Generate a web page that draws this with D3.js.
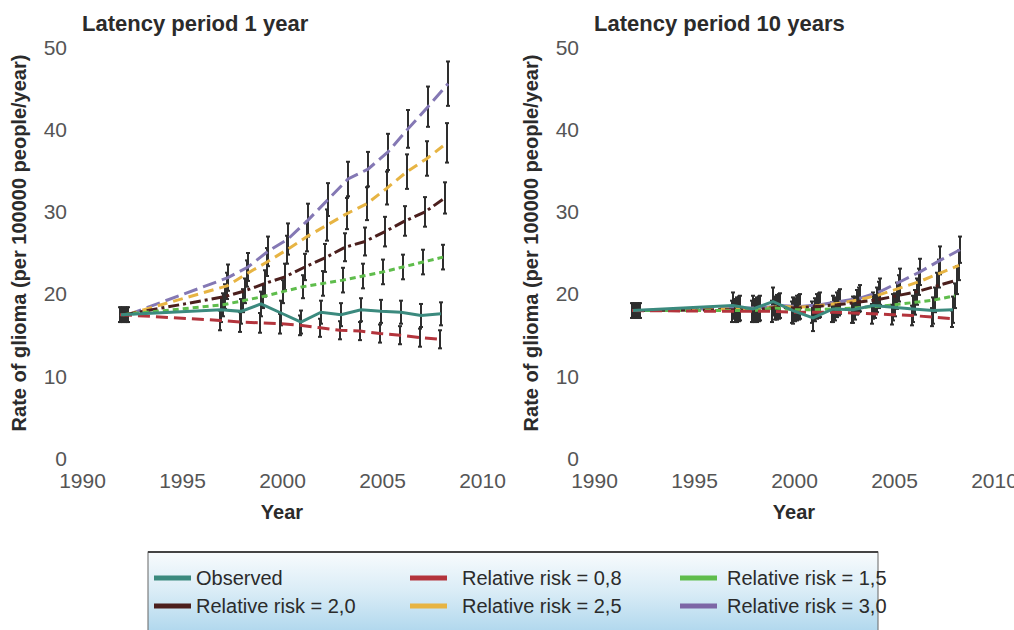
<!DOCTYPE html>
<html>
<head>
<meta charset="utf-8">
<script src="https://cdn.jsdelivr.net/npm/d3@7"></script>
<style>
  body { margin: 0; background: #fff; }
  svg { display: block; font-family: "Liberation Sans", Arial, sans-serif; }
</style>
</head>
<body>
<div id="chart"></div>
<script>
// years of the points (first point is the baseline year)
const years = [1992, 1997, 1998, 1999, 2000, 2001, 2002, 2003, 2004, 2005, 2006, 2007, 2008];
const xTicks = [1990, 1995, 2000, 2005, 2010];
const yTicks = [0, 10, 20, 30, 40, 50];

const seriesNames = ["Observed", "Relative risk = 0,8", "Relative risk = 1,5",
                     "Relative risk = 2,0", "Relative risk = 2,5", "Relative risk = 3,0"];

// Latency period 1 year
const observed1 = [17.5, 18.1, 17.9, 18.8, 17.7, 16.6, 17.8, 17.5, 18.1, 17.9, 17.8, 17.4, 17.6];
const rr08_1    = [17.5, 16.8, 16.6, 16.5, 16.4, 16.2, 15.9, 15.6, 15.5, 15.2, 15.0, 14.7, 14.5];
const rr15_1    = [17.5, 18.7, 19.2, 19.7, 20.3, 20.9, 21.3, 21.7, 22.2, 22.7, 23.3, 23.9, 24.5];
const rr20_1    = [17.5, 19.7, 20.4, 21.3, 22.1, 23.3, 24.4, 25.7, 26.4, 27.6, 28.9, 30.0, 31.7];
const rr25_1    = [17.5, 21.0, 22.5, 23.9, 25.4, 27.0, 28.4, 29.8, 31.0, 32.9, 34.9, 36.5, 38.4];
const rr30_1    = [17.5, 22.0, 23.3, 25.2, 26.7, 29.0, 31.5, 34.0, 35.2, 37.3, 40.1, 42.8, 45.6];

// error bar half widths, latency 1 year
const obsErr1  = [0.9, 1.5, 1.5, 1.5, 1.5, 1.4, 1.4, 1.4, 1.4, 1.4, 1.4, 1.4, 1.4];
const rr08Err1 = [0.9, 1.2, 1.2, 1.2, 1.2, 1.2, 1.1, 1.1, 1.1, 1.1, 1.1, 1.1, 1.1];
const rr15Err1 = [0.9, 1.4, 1.4, 1.4, 1.4, 1.4, 1.5, 1.5, 1.5, 1.5, 1.5, 1.5, 1.5];
const rr20Err1 = [0.9, 1.5, 1.5, 1.6, 1.6, 1.6, 1.7, 1.7, 1.7, 1.8, 1.8, 1.8, 1.9];
const rr25Err1 = [0.9, 1.6, 1.6, 1.7, 1.7, 1.8, 1.9, 1.9, 2.0, 2.0, 2.1, 2.1, 2.4];
const rr30Err1 = [0.9, 1.6, 1.7, 1.8, 1.9, 2.0, 2.0, 2.1, 2.1, 2.2, 2.3, 2.45, 2.7];

// Latency period 10 years
const observed10 = [18.0, 18.6, 18.2, 19.1, 18.0, 17.1, 18.2, 18.1, 18.6, 18.4, 18.2, 18.0, 18.1];
const rr08_10    = [18.0, 17.9, 17.9, 17.9, 17.8, 17.8, 17.8, 17.7, 17.6, 17.5, 17.4, 17.2, 17.0];
const rr15_10    = [18.0, 18.0, 18.0, 18.3, 18.1, 18.1, 18.2, 18.3, 18.5, 18.7, 19.0, 19.3, 19.8];
const rr20_10    = [18.0, 18.1, 18.1, 18.4, 18.3, 18.5, 18.7, 19.0, 19.3, 19.8, 20.3, 21.0, 21.7];
const rr25_10    = [18.0, 18.2, 18.2, 18.5, 18.4, 18.6, 18.9, 19.3, 19.9, 20.7, 21.5, 22.5, 23.5];
const rr30_10    = [18.0, 18.3, 18.3, 18.6, 18.5, 18.7, 19.1, 19.5, 20.3, 21.5, 22.7, 24.1, 25.4];

const obsErr10  = [0.9, 1.6, 1.6, 1.7, 1.6, 1.6, 1.6, 1.6, 1.6, 1.6, 1.6, 1.6, 1.6];
const rr08Err10 = [0.9, 1.3, 1.3, 1.3, 1.3, 1.3, 1.2, 1.2, 1.2, 1.2, 1.2, 1.1, 1.0];
const rr15Err10 = [0.9, 1.4, 1.4, 1.4, 1.4, 1.4, 1.4, 1.4, 1.4, 1.4, 1.5, 1.5, 1.5];
const rr20Err10 = [0.9, 1.5, 1.5, 1.5, 1.5, 1.5, 1.5, 1.5, 1.5, 1.6, 1.6, 1.6, 1.7];
const rr25Err10 = [0.9, 1.5, 1.5, 1.5, 1.5, 1.5, 1.5, 1.5, 1.6, 1.6, 1.6, 1.7, 1.8];
const rr30Err10 = [0.9, 1.5, 1.5, 1.5, 1.5, 1.5, 1.5, 1.6, 1.6, 1.6, 1.6, 1.7, 1.6];

const panels = [
    { title: "Latency period 1 year", left: 82,
      rates: [observed1, rr08_1, rr15_1, rr20_1, rr25_1, rr30_1],
      errs: [obsErr1, rr08Err1, rr15Err1, rr20Err1, rr25Err1, rr30Err1] },
    { title: "Latency period 10 years", left: 594,
      rates: [observed10, rr08_10, rr15_10, rr20_10, rr25_10, rr30_10],
      errs: [obsErr10, rr08Err10, rr15Err10, rr20Err10, rr25Err10, rr30Err10] },
];

// styles per series (same order as seriesNames)
const colors = ["#3b8a7e", "#b3343c", "#5fbd4c", "#4b1f1d", "#e7b443", "#8478b4"];
const legendColors = ["#3b8a7e", "#b3343c", "#5fbd4c", "#4b1f1d", "#e7b443", "#7d66a6"];
const dashes = [null, "12,6", "6,4", "11,4,3,4", "10,6", "14,6"];
const dodge = [-1, -2, 1, 3, 5, 6]; // small horizontal shift so bars don't sit on top of each other
const drawOrder = [5, 4, 3, 2, 1, 0];

const width = 1014, height = 630;
const plotWidth = 400;
const textColor = "#2b2b2b";

const svg = d3.select("#chart")
    .append("svg")
    .attr("width", width)
    .attr("height", height);

const defs = svg.append("defs");
const grad = defs.append("linearGradient")
    .attr("id", "legendBg")
    .attr("x1", 0).attr("y1", 0).attr("x2", 0).attr("y2", 1);
grad.append("stop").attr("offset", "0%").attr("stop-color", "#f8fbfd");
grad.append("stop").attr("offset", "40%").attr("stop-color", "#d9ecf6");
grad.append("stop").attr("offset", "100%").attr("stop-color", "#9ccde9");

const y = d3.scaleLinear().domain([0, 50]).range([458.5, 47.5]);

panels.forEach((p) => {
    const x = d3.scaleLinear().domain([1990, 2010]).range([p.left, p.left + plotWidth]);
    const g = svg.append("g");

    // title
    g.append("text")
        .attr("x", p.left)
        .attr("y", 31)
        .attr("font-size", 22)
        .attr("font-weight", "bold")
        .attr("fill", textColor)
        .text(p.title);

    // y axis: labels only
    g.append("g")
        .attr("transform", `translate(${p.left - 12},0)`)
        .call(d3.axisLeft(y).tickValues(yTicks).tickSize(0).tickPadding(3))
        .call((a) => a.select(".domain").remove())
        .selectAll("text")
        .attr("font-size", 21)
        .attr("font-family", "Liberation Sans, Arial, sans-serif")
        .attr("fill", "#555");

    // x axis: labels only
    g.append("g")
        .attr("transform", "translate(0,469)")
        .call(d3.axisBottom(x).tickValues(xTicks).tickFormat(d3.format("d")).tickSize(0).tickPadding(4))
        .call((a) => a.select(".domain").remove())
        .selectAll("text")
        .attr("font-size", 21)
        .attr("font-family", "Liberation Sans, Arial, sans-serif")
        .attr("fill", "#555");

    // axis titles
    g.append("text")
        .attr("x", p.left + plotWidth / 2)
        .attr("y", 519)
        .attr("text-anchor", "middle")
        .attr("font-size", 20)
        .attr("font-weight", "bold")
        .attr("fill", textColor)
        .text("Year");

    g.append("text")
        .attr("transform", `translate(${p.left - 56},243) rotate(-90)`)
        .attr("text-anchor", "middle")
        .attr("font-size", 20)
        .attr("font-weight", "bold")
        .attr("fill", textColor)
        .text("Rate of glioma (per 100000 people/year)");

    // error bars
    drawOrder.forEach((s) => {
        const bars = g.append("g");
        p.rates[s].forEach((v, i) => {
            const bx = x(years[i]) + dodge[s];
            const e = p.errs[s][i];
            bars.append("line")
                .attr("x1", bx).attr("x2", bx)
                .attr("y1", y(v + e)).attr("y2", y(v - e))
                .attr("stroke", "#2e2e2e")
                .attr("stroke-width", 2);
            [v + e, v - e].forEach((c) => {
                bars.append("line")
                    .attr("x1", bx - 2).attr("x2", bx + 2)
                    .attr("y1", y(c)).attr("y2", y(c))
                    .attr("stroke", "#2e2e2e")
                    .attr("stroke-width", 2);
            });
        });
    });

    // lines
    drawOrder.forEach((s) => {
        const line = d3.line()
            .x((d, i) => x(years[i]) + dodge[s])
            .y((d) => y(d));
        g.append("path")
            .datum(p.rates[s])
            .attr("d", line)
            .attr("fill", "none")
            .attr("stroke", colors[s])
            .attr("stroke-width", 3)
            .attr("stroke-dasharray", dashes[s]);
    });
});

// legend
const legend = svg.append("g");
legend.append("rect")
    .attr("x", 148).attr("y", 552)
    .attr("width", 730).attr("height", 100)
    .attr("fill", "url(#legendBg)")
    .attr("stroke", "#666")
    .attr("stroke-width", 1);
legend.append("line")
    .attr("x1", 148).attr("x2", 878)
    .attr("y1", 552).attr("y2", 552)
    .attr("stroke", "#444")
    .attr("stroke-width", 2);

const colSwatch = [154, 410, 680];
const colText = [196, 462, 727];
const rowY = [578, 606];

seriesNames.forEach((name, i) => {
    const col = i % 3, row = Math.floor(i / 3);
    legend.append("line")
        .attr("x1", colSwatch[col]).attr("x2", colSwatch[col] + 37)
        .attr("y1", rowY[row]).attr("y2", rowY[row])
        .attr("stroke", legendColors[i])
        .attr("stroke-width", 5);
    legend.append("text")
        .attr("x", colText[col])
        .attr("y", rowY[row] + 7)
        .attr("font-size", 20)
        .attr("fill", textColor)
        .text(name);
});
</script>
</body>
</html>
